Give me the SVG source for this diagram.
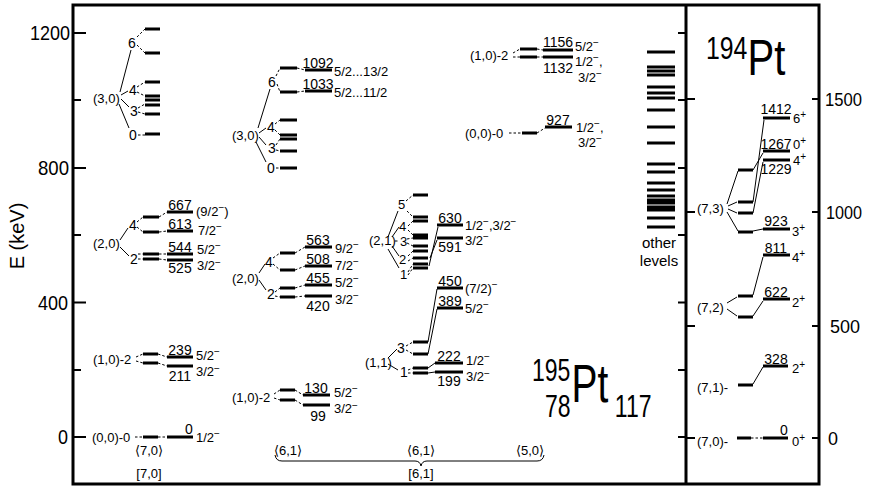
<svg xmlns="http://www.w3.org/2000/svg" width="869" height="489" viewBox="0 0 869 489">
<style>
text{font-family:"Liberation Sans",Arial,"DejaVu Sans",sans-serif;font-size:14px;fill:#000}
.m{text-anchor:middle}
.p{font-size:13px}
.s{font-size:13px}
.sup{font-size:10px}
.ax{font-size:21px}
.axr{font-size:19px}
.f31{font-size:31px}
.f32{font-size:32px}
.f50{font-size:50px}
.f54{font-size:54px}
.lab{font-size:20px}
.ol{font-size:15px}
.b{stroke:#000;stroke-width:3;fill:none}
.c{stroke:#000;stroke-width:1;fill:none}
.d{stroke:#000;stroke-width:1;fill:none;stroke-dasharray:2.5 2}
.f{stroke:#000;stroke-width:3;fill:none}
.tk{stroke:#000;stroke-width:2;fill:none}
</style>
<rect width="869" height="489" fill="#fff"/>

<g id="frame">
<path class="f" d="M73 5H819V484H73Z M686 5V484"/>
<path class="tk" d="M73 33H86M73 168H86M73 302.5H86M73 437H86M73 100H81M73 235H81M73 370H81"/>
<path class="tk" d="M678 33H686M678 100H686M678 168H686M678 235H686M678 302.5H686M678 370H686M678 437H686"/>
<path class="tk" d="M686 99H695M686 212H695M686 326H695M686 438H695M812 99H819M812 212H819M812 326H819M812 438H819"/>
<text class="ax" x="30" y="40" textLength="40" lengthAdjust="spacingAndGlyphs">1200</text>
<text class="ax" x="38" y="175" textLength="31" lengthAdjust="spacingAndGlyphs">800</text>
<text class="ax" x="38" y="310" textLength="30" lengthAdjust="spacingAndGlyphs">400</text>
<text class="ax" x="58" y="444" textLength="10" lengthAdjust="spacingAndGlyphs">0</text>
<text class="axr" x="825" y="106" textLength="37" lengthAdjust="spacingAndGlyphs">1500</text>
<text class="axr" x="826" y="219" textLength="36" lengthAdjust="spacingAndGlyphs">1000</text>
<text class="axr" x="830" y="333" textLength="30" lengthAdjust="spacingAndGlyphs">500</text>
<text class="axr" x="828" y="445" textLength="10" lengthAdjust="spacingAndGlyphs">0</text>
<text class="m lab" transform="translate(24,236) rotate(-90)">E (keV)</text>
</g>

<g id="n-c1-30">
<path class="b" d="M145 29H160M145 53H160M145 82H160M145 96H160M145 100H160M145 105H160M145 114H160M145 134H160"/>
<text class="p" x="93" y="103">(3,0)</text>
<text x="128" y="48">6</text>
<text x="129" y="95">4</text>
<text x="130" y="116">3</text>
<text x="129" y="140">0</text>
</g>

<g id="n-c1-20">
<path class="b" d="M143 217H159M143 232H159M143 254H159M143 259H159M167 212H193M167 231H193M167 254H193M167 260H193"/>
<text class="p" x="93" y="248">(2,0)</text>
<text x="129" y="230">4</text>
<text x="130" y="264">2</text>
<text class="m" x="180" y="210">667</text>
<text class="m" x="180" y="229">613</text>
<text class="m" x="180" y="252">544</text>
<text class="m" x="180" y="273">525</text>
<text class="s" x="196" y="216">(9/2<tspan class="sup" dy="-5">−</tspan><tspan dy="5">)</tspan></text>
<text class="s" x="198" y="235">7/2<tspan class="sup" dy="-5">−</tspan></text>
<text class="s" x="197" y="254">5/2<tspan class="sup" dy="-5">−</tspan></text>
<text class="s" x="197" y="270">3/2<tspan class="sup" dy="-4">−</tspan></text>
</g>

<g id="n-c1-10">
<path class="b" d="M143 354H158M143 363H158M167 357H193M167 366H193"/>
<text class="p" x="93" y="364">(1,0)-2</text>
<text class="m" x="180" y="355">239</text>
<text class="m" x="180" y="381">211</text>
<text class="s" x="196" y="360">5/2<tspan class="sup" dy="-5">−</tspan></text>
<text class="s" x="196" y="376">3/2<tspan class="sup" dy="-4">−</tspan></text>
</g>

<g id="n-c1-00">
<path class="b" d="M143 437H158M167 437H193"/>
<text class="p" x="92" y="442">(0,0)-0</text>
<text class="m" x="189" y="434">0</text>
<text class="s" x="196" y="442">1/2<tspan class="sup" dy="-5">−</tspan></text>
<text class="m p" x="149" y="455">⟨7,0⟩</text>
<text class="m p" x="149" y="478">[7,0]</text>
</g>

<g id="n-c2-30">
<path class="b" d="M280 68H297M280 92H297M280 120H297M280 135H297M280 139H297M280 151H297M280 168H297M305 70H332M305 91H332"/>
<text class="p" x="232" y="140">(3,0)</text>
<text x="268" y="87">6</text>
<text x="267" y="132">4</text>
<text x="268" y="153">3</text>
<text x="267" y="173">0</text>
<text class="m" x="318" y="68">1092</text>
<text class="m" x="318" y="89">1033</text>
<text class="s" x="334" y="76">5/2...13/2</text>
<text class="s" x="334" y="97">5/2...11/2</text>
</g>

<g id="n-c2-20">
<path class="b" d="M280 253H295M280 270H295M280 288H295M280 297H295M305 247H332M305 266H332M305 285H332M305 296H332"/>
<text class="p" x="232" y="283">(2,0)</text>
<text x="265" y="267">4</text>
<text x="267" y="299">2</text>
<text class="m" x="318" y="245">563</text>
<text class="m" x="318" y="264">508</text>
<text class="m" x="318" y="283">455</text>
<text class="m" x="318" y="311">420</text>
<text class="s" x="335" y="253">9/2<tspan class="sup" dy="-5">−</tspan></text>
<text class="s" x="335" y="270">7/2<tspan class="sup" dy="-5">−</tspan></text>
<text class="s" x="335" y="287">5/2<tspan class="sup" dy="-5">−</tspan></text>
<text class="s" x="335" y="304">3/2<tspan class="sup" dy="-5">−</tspan></text>
</g>

<g id="n-c2-10">
<path class="b" d="M280 390H295M280 400H295M303 395H330M303 405H330"/>
<text class="p" x="232" y="402">(1,0)-2</text>
<text class="m" x="316" y="393">130</text>
<text class="m" x="318" y="421">99</text>
<text class="s" x="334" y="397">5/2<tspan class="sup" dy="-5">−</tspan></text>
<text class="s" x="334" y="413">3/2<tspan class="sup" dy="-4">−</tspan></text>
</g>

<g id="n-c3-21">
<path class="b" d="M413 195H428M413 217H428M413 221H428M413 235H428M413 238H428M413 246H428M413 251H428M413 258H428M413 264H428M413 268H428M437 225H463M437 238H463"/>
<text class="p" x="369" y="245">(2,1)</text>
<text class="s" x="398" y="209">5</text>
<text class="s" x="399" y="231">4</text>
<text class="s" x="400" y="246">3</text>
<text class="s" x="399" y="264">2</text>
<text class="s" x="400" y="279">1</text>
<text class="m" x="450" y="223">630</text>
<text class="m" x="450" y="252">591</text>
<text class="s" x="465" y="230">1/2<tspan class="sup" dy="-5">−</tspan><tspan dy="5">,3/2</tspan><tspan class="sup" dy="-5">−</tspan></text>
<text class="s" x="465" y="245">3/2<tspan class="sup" dy="-5">−</tspan></text>
</g>

<g id="n-c3-11">
<path class="b" d="M413 342H428M413 354H428M413 368H428M413 373H428M437 288H463M437 308H463M435 363H463M435 372H463"/>
<text class="p" x="365" y="367">(1,1)</text>
<text x="397" y="353">3</text>
<text x="400" y="377">1</text>
<text class="m" x="450" y="286">450</text>
<text class="m" x="450" y="306">389</text>
<text class="s" x="465" y="293">(7/2)<tspan class="sup" dy="-5">−</tspan></text>
<text class="s" x="465" y="313">5/2<tspan class="sup" dy="-5">−</tspan></text>
<text class="m" x="449" y="361">222</text>
<text class="m" x="449" y="386">199</text>
<text class="s" x="466" y="365">1/2<tspan class="sup" dy="-5">−</tspan></text>
<text class="s" x="466" y="381">3/2<tspan class="sup" dy="-4">−</tspan></text>
</g>

<g id="n-c4-10">
<path class="b" d="M520 49H537M520 57H537M543 50H573M543 57H573"/>
<text class="p" x="470" y="60">(1,0)-2</text>
<text class="m" x="558" y="47">1156</text>
<text class="m" x="558" y="73">1132</text>
<text class="s" x="575" y="51">5/2<tspan class="sup" dy="-5">−</tspan></text>
<text class="s" x="575" y="66">1/2<tspan class="sup" dy="-5">−</tspan><tspan dy="5">,</tspan></text>
<text class="s" x="578" y="82">3/2<tspan class="sup" dy="-5">−</tspan></text>
</g>

<g id="n-c4-00">
<path class="b" d="M522 133H537M545 127H572"/>
<text class="p" x="465" y="138">(0,0)-0</text>
<text class="m" x="558" y="125">927</text>
<text class="s" x="576" y="132">1/2<tspan class="sup" dy="-5">−</tspan><tspan dy="5">,</tspan></text>
<text class="s" x="578" y="147">3/2<tspan class="sup" dy="-5">−</tspan></text>
</g>

<g id="n-other">
<path class="b" d="M647 52H675M647 67H675M647 71H675M647 75H675M647 87H675M647 93H675M647 98H675M647 110H675M647 127H675M647 143H675M647 164H675M647 172H675M647 183H675M647 190H675M647 196H675M647 200H675M647 203H675M647 207H675M647 210H675M647 218H675M647 227H675"/>
<text class="m ol" x="659" y="248">other</text>
<text class="m ol" x="659" y="266">levels</text>
</g>

<g id="n-pt195">
<text transform="translate(532 0) scale(0.72 1)"><tspan class="f32" x="0" y="381">195</tspan><tspan class="f32" x="18" y="417">78</tspan><tspan class="f54" x="55" y="402">Pt</tspan><tspan class="f32" x="115" y="417">117</tspan></text>
</g>

<g id="n-brace">
<text class="m p" x="288" y="455">⟨6,1⟩</text>
<text class="m p" x="421" y="455">⟨6,1⟩</text>
<text class="m p" x="530" y="455">⟨5,0⟩</text>
<text class="m p" x="421" y="478">[6,1]</text>
</g>

<g id="n-pt194">
<text transform="translate(706 0) scale(0.8 1)"><tspan class="f31" x="0" y="59">194</tspan><tspan class="f50" x="52" y="75">Pt</tspan></text>
</g>

<g id="n-70">
<path class="b" d="M737 438H751M763 438H788"/>
<text class="p" x="697" y="446">(7,0)-</text>
<text class="m" x="784" y="435">0</text>
<text class="s" x="792" y="446">0<tspan class="sup" dy="-5">+</tspan></text>
</g>

<g id="n-71">
<path class="b" d="M738 385H753M763 366H788"/>
<text class="p" x="697" y="392">(7,1)-</text>
<text class="m" x="776" y="364">328</text>
<text class="s" x="792" y="373">2<tspan class="sup" dy="-5">+</tspan></text>
</g>

<g id="n-72">
<path class="b" d="M738 296H753M738 317H753M763 255H790M763 299H790"/>
<text class="p" x="697" y="312">(7,2)</text>
<text class="m" x="776" y="253">811</text>
<text class="s" x="792" y="262">4<tspan class="sup" dy="-5">+</tspan></text>
<text class="m" x="776" y="297">622</text>
<text class="s" x="792" y="307">2<tspan class="sup" dy="-5">+</tspan></text>
</g>

<g id="n-73">
<path class="b" d="M738 170H753M738 202H753M738 213H753M738 232H753M763 118H790M763 151H790M763 160H790M763 229H790"/>
<text class="p" x="697" y="213">(7,3)</text>
<text class="m" x="776" y="114">1412</text>
<text class="s" x="793" y="123">6<tspan class="sup" dy="-5">+</tspan></text>
<text class="m" x="776" y="149">1267</text>
<text class="s" x="793" y="149">0<tspan class="sup" dy="-5">+</tspan></text>
<text class="m" x="776" y="174">1229</text>
<text class="s" x="793" y="165">4<tspan class="sup" dy="-5">+</tspan></text>
<text class="m" x="776" y="226">923</text>
<text class="s" x="792" y="236">3<tspan class="sup" dy="-5">+</tspan></text>
</g>

<g id="connectors">
<path class="c" d="M120 92L131 50M121 95L128 91M121 99L129 107M119 104L129 128"/>
<path class="d" d="M137 37L145 29M137 45L145 53M137 87L145 82M137 92L145 96M138 108L145 104M138 112L145 114M138 135H145"/>
<path class="c" d="M120 240L128 228M120 247L129 256"/>
<path class="d" d="M137 222L143 217M137 227L143 232M138 254H143M138 259H143M159 217L167 212M159 232L167 231M159 254H167M159 259L167 260"/>
<path class="d" d="M136 357L143 354M136 361L143 363M158 354L167 357M158 363L167 366"/>
<path class="d" d="M135 437H143M158 437H167"/>
<path class="c" d="M258 128L270 89M259 133L266 128M259 137L266 145M256 142L266 162"/>
<path class="d" d="M276 76L280 68M277 84L280 92M275 124L280 120M275 130L280 135M276 145L280 139M276 150L280 151M276 168H280M297 68L305 70M297 92L305 91"/>
<path class="c" d="M259 273L265 264M259 280L266 290"/>
<path class="d" d="M273 258L280 253M273 264L280 270M275 292L280 288M275 296L280 297M295 253L305 247M295 270L305 266M295 288L305 285M295 297L305 296"/>
<path class="d" d="M274 394L280 390M274 398L280 400M295 390L303 395M295 400L303 405"/>
<path class="c" d="M388 237L398 211M392 237L399 227M392 246L399 256M388 249L399 268"/>
<path class="d" d="M395 241H399M406 201L413 195M407 211L413 217M408 226L413 221M408 230L413 235M407 239L413 238M407 243L413 246M408 256L413 251M408 261L413 258M408 272L413 264M408 275L413 268"/>
<path class="c" d="M438 227L429 266M437 240L430 258M437 289L428 342M437 309L428 354"/>
<path class="c" d="M388 358L397 349M388 364L398 370M428 368L435 363M428 373L435 372"/>
<path class="d" d="M406 346L413 342M406 350L413 354M408 370L413 368M408 373H413"/>
<path class="d" d="M513 53L520 49M513 57H520M537 49L543 50M537 57H543M509 133H522M537 133L545 128"/>
<path class="c" d="M275 455Q276 461 282 461H415Q420 461 421 466Q422 461 427 461H537Q543 461 544 455"/>
<path class="d" d="M751 438H763"/>
<path class="c" d="M753 384L763 367M727 303L737 297M727 309L737 316M753 295L763 257M753 316L763 301"/>
<path class="c" d="M727 204L738 171M728 206L737 202M728 209L737 213M727 212L738 231M753 202L764 120M753 213L763 162M753 170L763 153M753 231L763 229"/>
</g>
</svg>
